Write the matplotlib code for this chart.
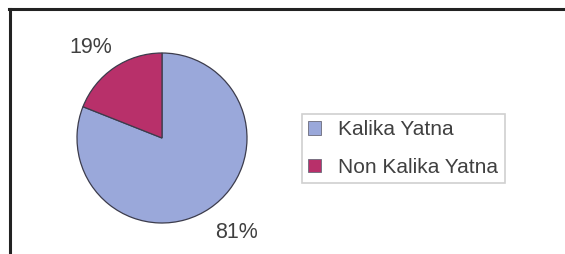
import numpy as np
import matplotlib
matplotlib.use('Agg')
import matplotlib.pyplot as plt
from matplotlib.lines import Line2D
from matplotlib.patches import Patch

# Datos del gráfico
categorias = ['Kalika Yatna', 'Non Kalika Yatna']
valores = [81, 19]
colores = ['#9aa8da', '#b8306a']

plt.rcParams['font.family'] = ['Liberation Sans', 'DejaVu Sans']

W, H = 565, 254
fig = plt.figure(figsize=(W / 100, H / 100), dpi=100)
fig.patch.set_facecolor('white')

# Eje del pastel: centro (162, 138) px, radio ~85 px
cx, cy, r = 162, 138, 85
lado = 200
ax = fig.add_axes([(cx - lado / 2) / W, (H - cy - lado / 2) / H, lado / W, lado / H])
wedges, textos, pcts = ax.pie(valores, colors=colores, startangle=90, counterclock=False,
                              autopct='%1.0f%%', pctdistance=1.4,
                              wedgeprops=dict(edgecolor='#3c3c4c', linewidth=0.9))
lim = (lado / 2) / r
ax.set_xlim(-lim, lim)
ax.set_ylim(-lim, lim)
ax.set_aspect('equal')

# Etiquetas de porcentaje fuera del pastel, algo giradas
distancias = [1.41, 1.36]
for w, t, d in zip(wedges, pcts, distancias):
    ang = np.deg2rad((w.theta1 + w.theta2) / 2 + 4)
    t.set_position((d * np.cos(ang), d * np.sin(ang)))
    t.set_fontsize(15.5)
    t.set_color('#404040')

# Leyenda
handles = [Patch(facecolor=c, edgecolor='#6a6a7a', linewidth=0.6) for c in colores]
leg = fig.legend(handles, categorias, loc='upper left',
                 bbox_to_anchor=(302 / W, (H - 114) / H),
                 fontsize=15, frameon=True, fancybox=False,
                 borderpad=0.3, labelspacing=0.9,
                 handlelength=0.6, handleheight=0.6, handletextpad=0.85,
                 borderaxespad=0)
leg.get_frame().set_edgecolor('#c4c4c4')
leg.get_frame().set_linewidth(1.2)
for t in leg.get_texts():
    t.set_color('#404040')

# Marco superior e izquierdo
fig.add_artist(Line2D([9 / W, 1], [(H - 9) / H, (H - 9) / H], color='#222222',
                      linewidth=2.2, transform=fig.transFigure))
fig.add_artist(Line2D([9.5 / W, 9.5 / W], [0, (H - 9) / H], color='#222222',
                      linewidth=2.2, transform=fig.transFigure))

fig.savefig('out.png', dpi=100)
